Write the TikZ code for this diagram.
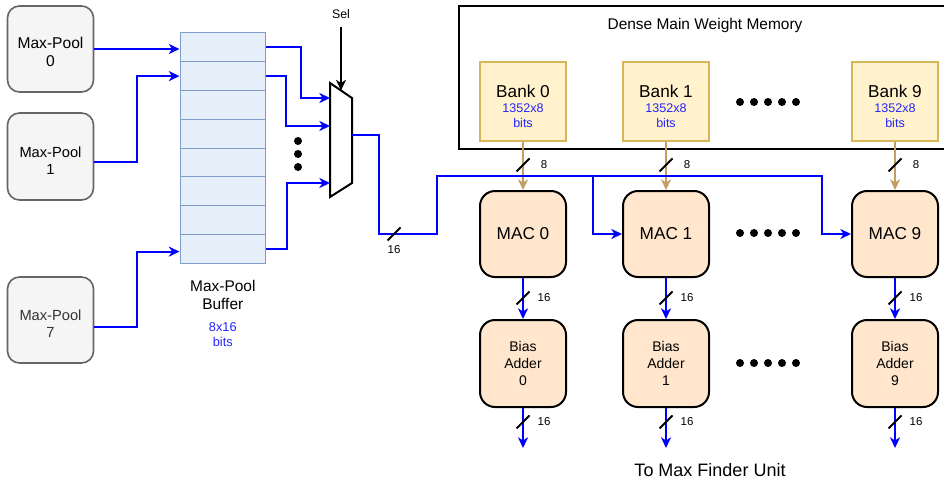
\documentclass[tikz,border=0pt]{standalone}
\usepackage{fontspec}
\setmainfont{Liberation Sans}
\usetikzlibrary{arrows.meta,calc}

\newdimen\px \px=0.75pt

\definecolor{poolfill}{HTML}{F5F5F5}
\definecolor{poolline}{HTML}{666666}
\definecolor{pooltext}{HTML}{333333}
\definecolor{buffill}{HTML}{E6EEFA}
\definecolor{bufline}{HTML}{7E9CC9}
\definecolor{bankfill}{HTML}{FFF2CC}
\definecolor{bankline}{HTML}{D6B656}
\definecolor{macfill}{HTML}{FFE6CC}
\definecolor{tanwire}{HTML}{BFA061}
\definecolor{wireblue}{HTML}{0000FF}
\definecolor{sizeblue}{HTML}{2424FF}

\tikzset{
  >={Stealth[length=8pt,width=7.5pt,inset=2.4pt]},
  pool/.style={draw=poolline, fill=poolfill, line width=1.6\px,
    rounded corners=12\px, minimum width=86\px, minimum height=86\px,
    inner sep=0pt},
  pooltitle/.style={align=center, inner sep=0pt, font=\fontsize{11}{12.8}\selectfont},
  bufrow/.style={draw=bufline, fill=buffill, line width=1\px,
    minimum width=85.6\px, minimum height=28.75\px, inner sep=0pt},
  bank/.style={draw=bankline, fill=bankfill, line width=2\px,
    minimum width=86\px, minimum height=79\px, inner sep=0pt},
  banktitle/.style={align=center, inner sep=0pt, font=\fontsize{9.4}{11.3}\selectfont},
  mac/.style={draw=black, fill=macfill, line width=2\px,
    rounded corners=15\px, minimum width=86\px, minimum height=86\px,
    inner sep=0pt, align=center, font=\fontsize{12.9}{14}\selectfont},
  bias/.style={mac, minimum height=87\px, font=\fontsize{10.5}{12.5}\selectfont},
  bluewire/.style={draw=wireblue, line width=2\px},
  tanw/.style={draw=tanwire, line width=2\px},
  widthlabel/.style={font=\fontsize{8.6}{10}\selectfont, inner sep=0pt},
  pics/slash/.style={code={\draw[black, line width=2\px] (-6.5,6.5) -- (6.5,-6.5);}},
}

\begin{document}
\begin{tikzpicture}[x=0.75pt, y=-0.75pt]
\useasboundingbox (0,0) rectangle (944,485);

% ---- max-pool units ----
\node[pool] (mp0) at (50.5,49) {};
\node[pool, minimum height=87\px] (mp1) at (50.5,156.5) {};
\node[pool] (mp7) at (50.5,320) {};
\node[pooltitle, font=\fontsize{11.7}{14}\selectfont] (mp0-text) at ($(mp0)+(0,3)$) {Max-Pool\\0};
\node[pooltitle] (mp1-text) at ($(mp1)+(0,4)$) {Max-Pool\\1};
\node[pooltitle, text=pooltext] (mp7-text) at ($(mp7)+(0,3.5)$) {Max-Pool\\7};

% ---- max-pool buffer (8 rows) ----
\foreach \i in {0,...,7}
  \node[bufrow] (buf\i) at (222.8,{33+28.75*(\i+0.5)}) {};
\node[font=\fontsize{11.6}{13.5}\selectfont, align=center] (bufname) at (222.8,295) {Max-Pool\\Buffer};
\node[font=\fontsize{9.6}{11.3}\selectfont, align=center, text=sizeblue] (bufsize) at (222.8,334.5) {8x16\\bits};

% ---- multiplexer ----
\draw[line width=2\px, fill=white] (330,83) -- (352,98) -- (352,183) -- (330,197) -- cycle;
\coordinate (mux-in0) at (330,98);
\coordinate (mux-in1) at (330,126);
\coordinate (mux-in7) at (330,183);
\coordinate (mux-out) at (352,135);
\coordinate (mux-sel) at (341,90.5);
\node[font=\fontsize{9.3}{10}\selectfont] (sel) at (341,14) {Sel};
\draw[line width=2\px, ->] ($(sel)+(0,13)$) -- (mux-sel);

\foreach \y in {141,154,167}
  \fill (298,\y) circle[radius=4\px];

% pool -> buffer
\coordinate (jin) at (137,0);
\draw[bluewire, ->] (mp0.east) -- (mp0.east -| buf0.west);
\draw[bluewire, ->] ($(mp1.east)+(0,5.5)$) -| (jin |- buf1.west) -- (buf1.west);
\draw[bluewire, ->] ($(mp7.east)+(0,7)$) -| ($(jin |- buf7.west)+(0,3)$) -- ($(buf7.west)+(0,3)$);

% buffer -> mux
\coordinate (jo0) at (301,0);
\coordinate (jo1) at (286,0);
\coordinate (jo7) at (287,0);
\draw[bluewire, ->] (buf0.east) -- (buf0.east -| jo0) |- (mux-in0);
\draw[bluewire, ->] (buf1.east) -- (buf1.east -| jo1) |- (mux-in1);
\draw[bluewire, ->] (buf7.east) -- (buf7.east -| jo7) |- (mux-in7);

% ---- dense main weight memory ----
\node[draw, line width=2\px, minimum width=488\px, minimum height=143\px,
      inner sep=0pt, anchor=north west] (mem) at (458,5) {};
\node[font=\fontsize{11.6}{13}\selectfont] (memtitle) at (705,26) {Dense Main Weight Memory};

% ---- banks, MACs and bias adders ----
\foreach \k/\x in {0/523,1/666,9/895}{
  \node[bank] (bank\k) at (\x,101.5) {};
  \node[banktitle] (bank\k-text) at ($(bank\k)+(0,5)$)
    {{\fontsize{12.9}{12.9}\selectfont Bank \k}\\{\color{sizeblue}1352x8}\\{\color{sizeblue}bits}};
  \node[mac] (mac\k) at (\x,234) {MAC \k};
  \node[bias] (bias\k) at (\x,363.5) {Bias\\Adder\\\k};
  \coordinate (out\k) at (\x,448);
  \draw[tanw, ->] (bank\k) -- (mac\k);
  \pic at ($(bank\k.south)+(0,23)$) {slash};
  \node[widthlabel] (w8-\k) at ($(bank\k.south)+(21,23)$) {8};
  \draw[bluewire, ->] (mac\k) -- (bias\k);
  \pic at ($(mac\k.south)+(0,20)$) {slash};
  \node[widthlabel] (wm-\k) at ($(mac\k.south)+(21,20)$) {16};
  \draw[bluewire, ->] (bias\k) -- (out\k);
  \pic at ($(bias\k.south)+(0,14)$) {slash};
  \node[widthlabel] (wb-\k) at ($(bias\k.south)+(21,14)$) {16};
}

\foreach \y in {102,233,363}
  \foreach \x in {740,754,768,782,796}
    \fill (\x,\y) circle[radius=4\px];

% ---- mux output bus to the MACs ----
\coordinate (bend1) at (379,234);
\coordinate (bus) at (437,176);
\coordinate (drop1) at ($(mac1.west)+(-29,0)$);
\coordinate (drop9) at ($(mac9.west)+(-29,0)$);
\draw[bluewire, ->] (mux-out) -| (bend1) -| (bus) -| (drop9) -- (mac9.west);
\draw[bluewire, ->] (bus -| drop1) -- (drop1) -- (mac1.west);
\pic at ($(bend1)+(15,0)$) {slash};
\node[widthlabel] (wbus) at ($(bend1)+(15,16)$) {16};

\node[font=\fontsize{13.5}{16}\selectfont] (tomax) at (710,470) {To Max Finder Unit};
\end{tikzpicture}
\end{document}
